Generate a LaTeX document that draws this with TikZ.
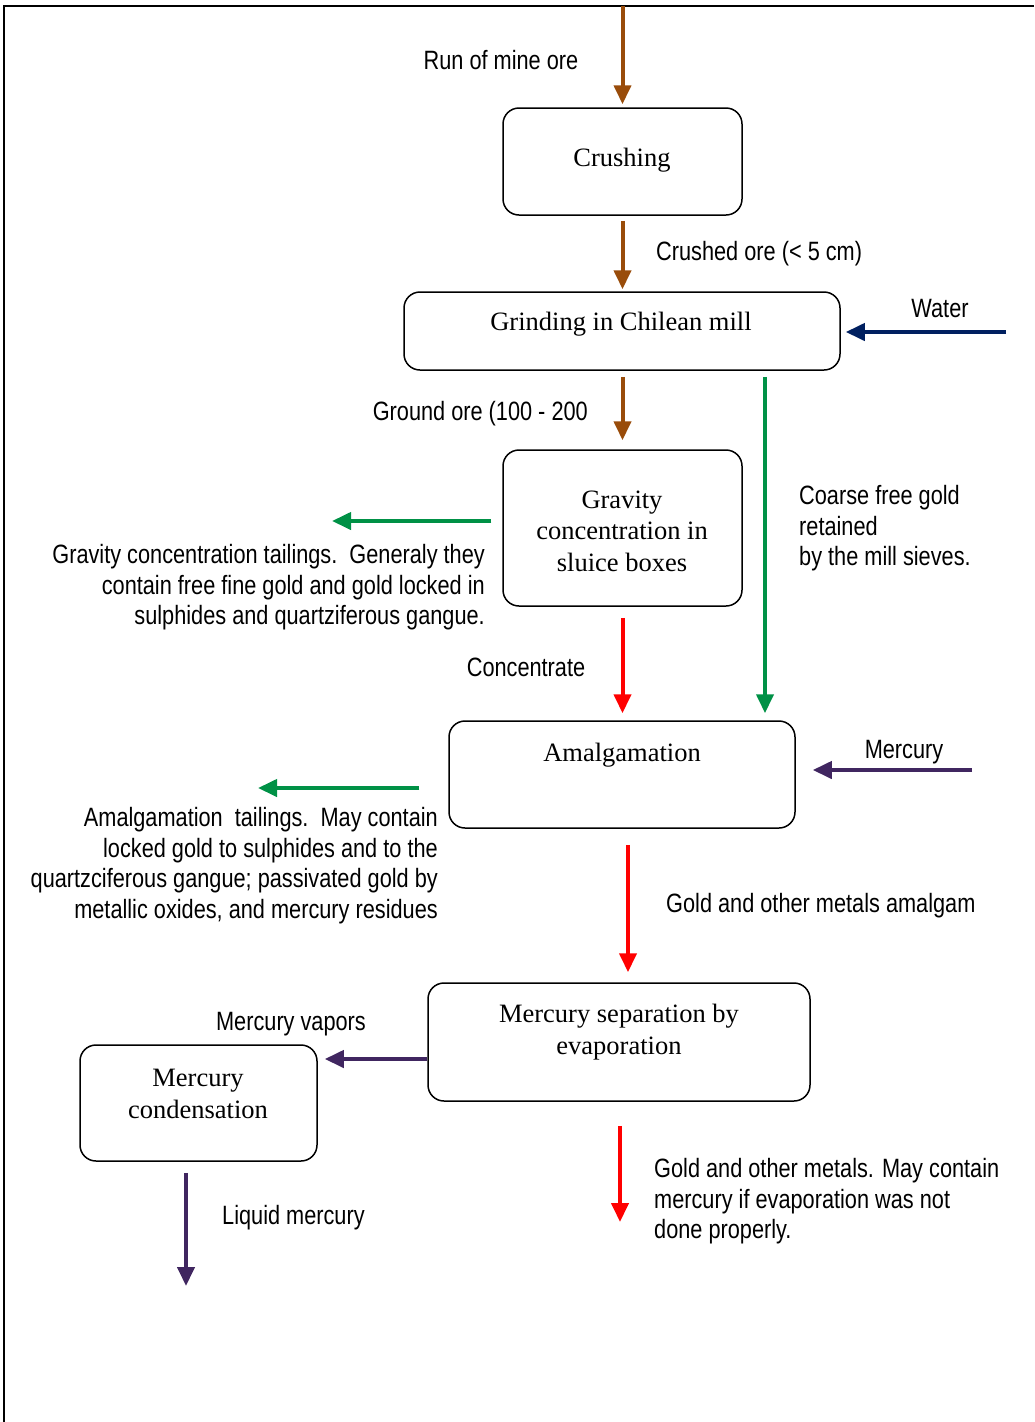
\documentclass[tikz,border=0pt]{standalone}
\usepackage{fontspec}
\setmainfont{Liberation Serif}
\newfontfamily\narrowsans[FakeStretch=0.82]{Liberation Sans}
\usetikzlibrary{arrows.meta}
\definecolor{cbrown}{RGB}{153,76,10}
\definecolor{cgreen}{RGB}{0,145,70}
\definecolor{cnavy}{RGB}{0,32,96}
\definecolor{cpurple}{RGB}{64,38,96}
\definecolor{cred}{RGB}{255,0,0}
\begin{document}
\begin{tikzpicture}[x=1pt,y=-1pt,
  box/.style={draw, line width=1.5pt, rounded corners=16pt, inner sep=0},
  lbl/.style={font=\narrowsans\fontsize{26.5}{30.5}\selectfont, inner sep=0, yshift=-2.5pt},
  boxtxt/.style={font=\fontsize{26.5}{31.5}\selectfont, align=center, inner sep=0, yshift=-2pt},
  flow/.style={line width=4pt, -{Triangle[width=17pt,length=19pt]}}]
\useasboundingbox (0,0) rectangle (1034,1422);
\draw[line width=1.5pt] (1034,6) -- (4,6) -- (4,1422);

% boxes
\node[box, minimum width=239pt, minimum height=107pt] (crush) at (622.5,161.5) {};
\node[box, minimum width=436pt, minimum height=78pt] (grind) at (622,331) {};
\node[box, minimum width=239pt, minimum height=156pt] (grav) at (622.5,528) {};
\node[box, minimum width=346pt, minimum height=107pt] (amal) at (622,774.5) {};
\node[box, minimum width=382pt, minimum height=118pt] (sep) at (619,1042) {};
\node[box, minimum width=237pt, minimum height=116pt] (cond) at (198.5,1103) {};

% box texts
\node[boxtxt] (tcrush) at (622,158) {Crushing};
\node[boxtxt] (tgrind) at (621,322) {Grinding in Chilean mill};
\node[boxtxt] (tgrav) at (622,529) {Gravity\\concentration in\\sluice boxes};
\node[boxtxt] (tamal) at (622,753) {Amalgamation};
\node[boxtxt] (tsep) at (619,1030) {Mercury separation by\\evaporation};
\node[boxtxt] (tcond) at (198,1092) {Mercury\\condensation};

% free ends
\coordinate (top) at (622,6);
\coordinate (water) at (1006,332);
\coordinate (coarsex) at (765,0);
\coordinate (gtail) at (332,521);
\coordinate (atail) at (258,788);
\coordinate (merc) at (972,770);
\coordinate (amx) at (628,0);
\coordinate (liq) at (186,1286);
\coordinate (fin) at (620,1222);

% connectors
\draw[flow, cbrown, shorten >=3pt] (crush.north |- top) -- (crush.north);
\draw[flow, cbrown, shorten <=5pt, shorten >=2pt] (crush.south) -- (grind.north -| crush.south);
\draw[flow, cbrown, shorten <=6pt, shorten >=9pt] (grind.south -| grav.north) -- (grav.north);
\draw[flow, cnavy, shorten >=5pt] (water) -- (water -| grind.east);
\draw[flow, cgreen, shorten <=6pt, shorten >=7pt] (grind.south -| coarsex) -- (amal.north -| coarsex);
\draw[flow, cgreen, shorten <=11pt] (grav.west |- gtail) -- (gtail);
\draw[flow, cred, shorten <=11pt, shorten >=7pt] (grav.south) -- (amal.north -| grav.south);
\draw[flow, cgreen, shorten <=29pt] (amal.west |- atail) -- (atail);
\draw[flow, cpurple, shorten >=17pt] (merc) -- (merc -| amal.east);
\draw[flow, cred, shorten <=16pt, shorten >=10pt] (amal.south -| amx) -- (sep.north -| amx);
\draw[flow, cpurple, shorten >=7pt] (sep.west |- 0,1059) -- (cond.east |- 0,1059);
\draw[flow, cpurple, shorten <=11pt] (cond.south -| liq) -- (liq);
\draw[flow, cred, shorten <=24pt] (sep.south -| fin) -- (fin);

% labels
\node[lbl] (lrun) at (501,58) {Run of mine ore};
\node[lbl, anchor=west] (lcrushed) at (656,251) {Crushed ore (< 5 cm)};
\node[lbl, anchor=east] (lground) at (588,411) {Ground ore (100 - 200};
\node[lbl] (lwater) at (940,306) {Water};
\node[lbl, anchor=west, align=left] (lcoarse) at (799,526) {Coarse free gold\\retained\\by the mill sieves.};
\node[lbl, anchor=east, align=right] (lgtail) at (485,585) {Gravity concentration tailings.\ \ Generaly they\\contain free fine gold and gold locked in\\sulphides and quartziferous gangue.};
\node[lbl] (lconc) at (526,665) {Concentrate};
\node[lbl] (lmerc) at (904,750) {Mercury};
\node[lbl, anchor=east, align=right] (latail) at (438,863) {Amalgamation\ \ tailings.\ \ May contain\\locked gold to sulphides and to the\\quartzciferous gangue; passivated gold by\\metallic oxides, and mercury residues};
\node[lbl, anchor=west] (lamalg) at (666,903) {Gold and other metals amalgam};
\node[lbl] (lvap) at (291,1022) {Mercury vapors};
\node[lbl, anchor=west] (lliq) at (222,1215) {Liquid mercury};
\node[lbl, anchor=west, align=left] (lgold) at (654,1199) {Gold and other metals. May contain\\mercury if evaporation was not\\done properly.};
\end{tikzpicture}
\end{document}
